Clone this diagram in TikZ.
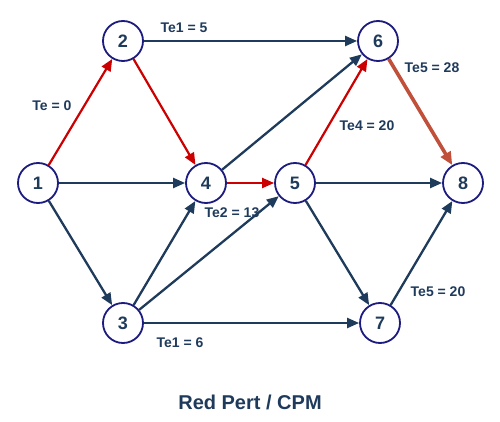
\documentclass[tikz,border=0pt]{standalone}
\usepackage{fontspec}
\setmainfont{Liberation Sans}
\usetikzlibrary{positioning,arrows.meta}
\definecolor{navy}{HTML}{1F3B5C}
\definecolor{ringblue}{HTML}{1B1B80}
\definecolor{critred}{HTML}{CC0000}
\definecolor{rust}{HTML}{C0503A}
\tikzstyle{eventnode}=[circle, draw=ringblue, fill=white, line width=1.8pt, minimum size=40pt, inner sep=0pt, text=navy, font=\fontsize{18}{18}\selectfont\bfseries]
\tikzstyle{telabel}=[text=navy, font=\fontsize{14}{14}\selectfont\bfseries, inner sep=0pt]
\tikzstyle{act}=[-{Triangle[length=12pt,width=10pt]}, line width=2.3pt, draw=navy]
\tikzstyle{crit}=[-{Triangle[length=12pt,width=10pt]}, line width=2.2pt, draw=critred]

\begin{document}
\begin{tikzpicture}[x=1pt,y=1pt]
\useasboundingbox (0,0) rectangle (500,421);
  \begin{scope}[on grid]
%Nodes
\node[eventnode]  (e1)  at (38,238)                          {1};
\node[eventnode]  (e2)  [above right=142pt and 85pt of e1]   {2};
\node[eventnode]  (e3)  [below right=140pt and 85pt of e1]   {3};
\node[eventnode]  (e4)  [right=168pt of e1]                  {4};
\node[eventnode]  (e5)  [right=89pt of e4]                   {5};
\node[eventnode]  (e6)  [above right=142pt and 83pt of e5]   {6};
\node[eventnode]  (e7)  [below right=140pt and 85pt of e5]   {7};
\node[eventnode]  (e8)  [right=168pt of e5]                  {8};
%Lines
\draw[act] (e2) -- (e6);
\draw[act] (e1) -- (e4);
\draw[act] (e1) -- (e3);
\draw[act] (e4) -- (e6);
\draw[act] (e5) -- (e8);
\draw[act] (e3) -- (e4);
\draw[act] (e3) -- (e5);
\draw[act] (e3) -- (e7);
\draw[act] (e5) -- (e7);
\draw[act] (e7) -- (e8);
\draw[crit] (e1) -- (e2);
\draw[crit] (e2) -- (e4);
\draw[crit] (e4) -- (e5);
\draw[crit] (e5) -- (e6);
\draw[-{Triangle[length=13pt,width=11pt]}, line width=3.6pt, draw=rust] (e6) -- (e8);
%Labels
\node[telabel] (t0)  at (52,315)  {Te = 0};
\node[telabel] (t15) at (184,393) {Te1 = 5};
\node[telabel] (t28) at (432,353) {Te5 = 28};
\node[telabel] (t20) at (367,295) {Te4 = 20};
\node[telabel] (t13) at (232,208) {Te2 = 13};
\node[telabel] (t16) at (180,78)  {Te1 = 6};
\node[telabel] (t520) at (438,129) {Te5 = 20};
  \end{scope}
\node[text=navy, font=\fontsize{20}{20}\selectfont\bfseries] (title) at (250,19) {Red Pert / CPM};
\end{tikzpicture}
\end{document}
